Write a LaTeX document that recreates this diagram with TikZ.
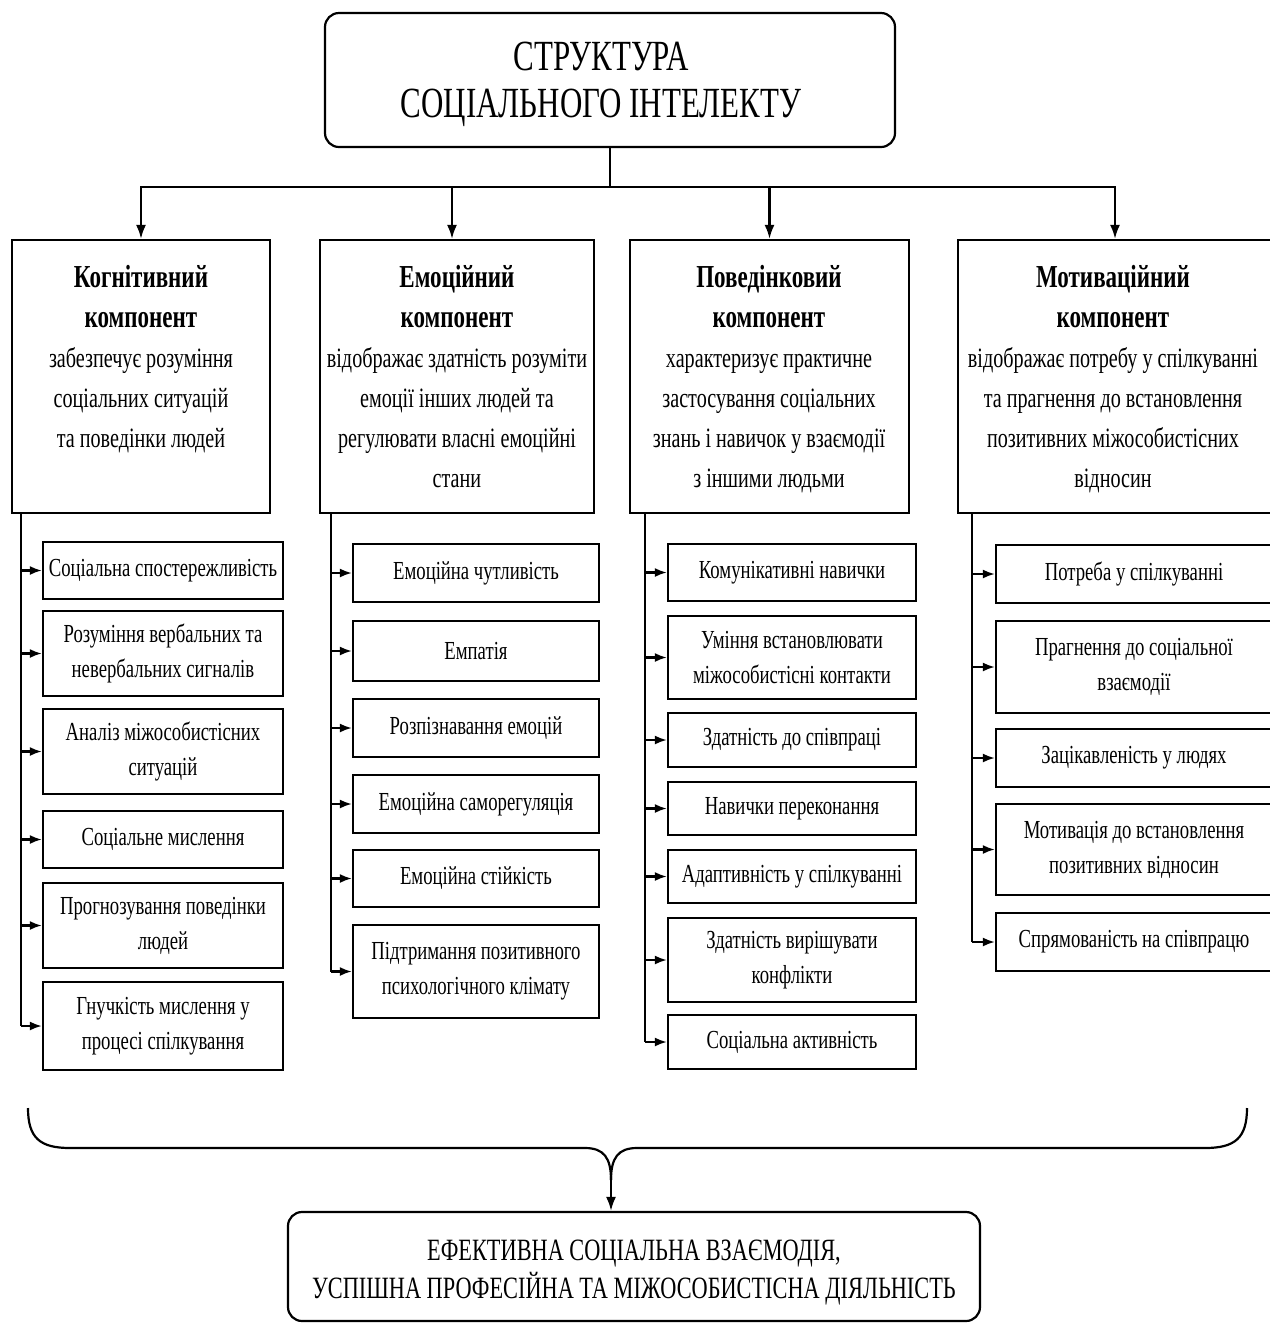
\documentclass[tikz,border=0pt]{standalone}
\usepackage{fontspec}
\setmainfont{Liberation Serif}[FakeStretch=0.72]
\usetikzlibrary{arrows.meta}
\newcommand\bx[6]{\node[#6, minimum width={(#4-#2)*0.5pt}, minimum height={(#5-#3)*0.5pt}] (#1) at ({(#2+#4)/2},{(#3+#5)/2})}
\newcommand\hb[1]{{\fontsize{16}{20}\selectfont\bfseries #1}}
\tikzset{
  ln/.style={line width=1.1pt},
  arr/.style={ln, -{Latex[length=7pt,width=5pt]}},
  sarr/.style={ln, -{Latex[length=6pt,width=4.5pt]}},
  roundbox/.style={draw, ln, rounded corners=7pt, inner sep=0pt},
  titletxt/.style={align=center, inner sep=0pt, font=\fontsize{21.5}{23.5}\selectfont},
  endtxt/.style={align=center, inner sep=0pt, font=\fontsize{15.5}{19}\selectfont},
  hdrbox/.style={draw, ln, inner sep=0pt},
  hdrtxt/.style={align=center, inner sep=0pt, anchor=north, font=\fontsize{14}{20}\selectfont},
  subbox/.style={draw, ln, inner sep=0pt, align=center, font=\fontsize{13}{17.5}\selectfont},
}
\begin{document}
\begin{tikzpicture}[x=0.5pt,y=-0.5pt]
\useasboundingbox (0,0) rectangle (1270,1324);
\clip (0,0) rectangle (1270,1324);
\fill[white] (0,0) rectangle (1270,1324);

% title
\bx{top}{325}{13}{895}{147}{roundbox} {};
\node[titletxt] (topt) at (601,84) {СТРУКТУРА\\СОЦІАЛЬНОГО ІНТЕЛЕКТУ};

% component boxes
\bx{h1}{12}{240}{270}{513}{hdrbox} {};
\bx{h2}{320}{240}{594}{513}{hdrbox} {};
\bx{h3}{630}{240}{909}{513}{hdrbox} {};
\bx{h4}{958}{240}{1272}{513}{hdrbox} {};

\node[hdrtxt] (h1t) at (141,265) {\hb{Когнітивний}\\\hb{компонент}\\забезпечує розуміння\\соціальних ситуацій\\та поведінки людей};
\node[hdrtxt] (h2t) at (457,265) {\hb{Емоційний}\\\hb{компонент}\\відображає здатність розуміти\\емоції інших людей та\\регулювати власні емоційні\\стани};
\node[hdrtxt] (h3t) at (769,265) {\hb{Поведінковий}\\\hb{компонент}\\характеризує практичне\\застосування соціальних\\знань і навичок у взаємодії\\з іншими людьми};
\node[hdrtxt] (h4t) at (1113,265) {\hb{Мотиваційний}\\\hb{компонент}\\відображає потребу у спілкуванні\\та прагнення до встановлення\\позитивних міжособистісних\\відносин};

\coordinate (bar) at (610,187);
\draw[ln] (top.south) -- (bar);
\draw[arr] (bar) -| (h1.north);
\draw[arr] (bar) -| ([xshift=-2.5pt]h2.north);
\draw[arr] (bar) -| (h3.north);
\draw[arr] (bar) -| (h4.north);

% column 1
\bx{a1}{43}{542}{283}{599}{subbox} {Соціальна спостережливість};
\bx{a2}{43}{611}{283}{696}{subbox} {Розуміння вербальних та\\невербальних сигналів};
\bx{a3}{43}{709}{283}{794}{subbox} {Аналіз міжособистісних\\ситуацій};
\bx{a4}{43}{811}{283}{868}{subbox} {Соціальне мислення};
\bx{a5}{43}{883}{283}{968}{subbox} {Прогнозування поведінки\\людей};
\bx{a6}{43}{982}{283}{1070}{subbox} {Гнучкість мислення у\\процесі спілкування};
% column 2
\bx{b1}{353}{544}{599}{602}{subbox} {Емоційна чутливість};
\bx{b2}{353}{621}{599}{681}{subbox} {Емпатія};
\bx{b3}{353}{699}{599}{757}{subbox} {Розпізнавання емоцій};
\bx{b4}{353}{775}{599}{833}{subbox} {Емоційна саморегуляція};
\bx{b5}{353}{850}{599}{907}{subbox} {Емоційна стійкість};
\bx{b6}{353}{925}{599}{1018}{subbox} {Підтримання позитивного\\психологічного клімату};
% column 3
\bx{c1}{668}{544}{916}{601}{subbox} {Комунікативні навички};
\bx{c2}{668}{616}{916}{699}{subbox} {Уміння встановлювати\\міжособистісні контакти};
\bx{c3}{668}{713}{916}{767}{subbox} {Здатність до співпраці};
\bx{c4}{668}{782}{916}{835}{subbox} {Навички переконання};
\bx{c5}{668}{850}{916}{903}{subbox} {Адаптивність у спілкуванні};
\bx{c6}{668}{918}{916}{1002}{subbox} {Здатність вирішувати\\конфлікти};
\bx{c7}{668}{1015}{916}{1069}{subbox} {Соціальна активність};
% column 4
\bx{d1}{996}{545}{1272}{603}{subbox} {Потреба у спілкуванні};
\bx{d2}{996}{621}{1272}{713}{subbox} {Прагнення до соціальної\\взаємодії};
\bx{d3}{996}{729}{1272}{787}{subbox} {Зацікавленість у людях};
\bx{d4}{996}{804}{1272}{895}{subbox} {Мотивація до встановлення\\позитивних відносин};
\bx{d5}{996}{913}{1272}{971}{subbox} {Спрямованість на співпрацю};

% trunks
\coordinate (ta) at (21,513);
\coordinate (tb) at (331,513);
\coordinate (tc) at (645,513);
\coordinate (td) at (972,513);
\draw[ln] (ta) -- (ta |- a6.west);
\draw[ln] (tb) -- (tb |- b6.west);
\draw[ln] (tc) -- (tc |- c7.west);
\draw[ln] (td) -- (td |- d5.west);
\foreach \n in {a1,a2,a3,a4,a5,a6} \draw[sarr] (ta |- \n.west) -- (\n.west);
\foreach \n in {b1,b2,b3,b4,b5,b6} \draw[sarr] (tb |- \n.west) -- (\n.west);
\foreach \n in {c1,c2,c3,c4,c5,c6,c7} \draw[sarr] (tc |- \n.west) -- (\n.west);
\foreach \n in {d1,d2,d3,d4,d5} \draw[sarr] (td |- \n.west) -- (\n.west);

% brace
\coordinate (cusp) at (611,1180);
\draw[ln] (28,1108) .. controls (28,1138) and (40,1148) .. (70,1148) -- (585,1148)
  .. controls (604,1148) and (611,1158) .. (cusp);
\draw[ln] (1247,1108) .. controls (1247,1138) and (1235,1148) .. (1205,1148) -- (637,1148)
  .. controls (618,1148) and (611,1158) .. (cusp);

% result
\bx{res}{288}{1212}{980}{1321}{roundbox} {};
\node[endtxt] (rest) at (634,1273) {ЕФЕКТИВНА СОЦІАЛЬНА ВЗАЄМОДІЯ,\\УСПІШНА ПРОФЕСІЙНА ТА МІЖОСОБИСТІСНА ДІЯЛЬНІСТЬ};
\draw[arr] (cusp) -- (cusp |- res.north);
\end{tikzpicture}
\end{document}
